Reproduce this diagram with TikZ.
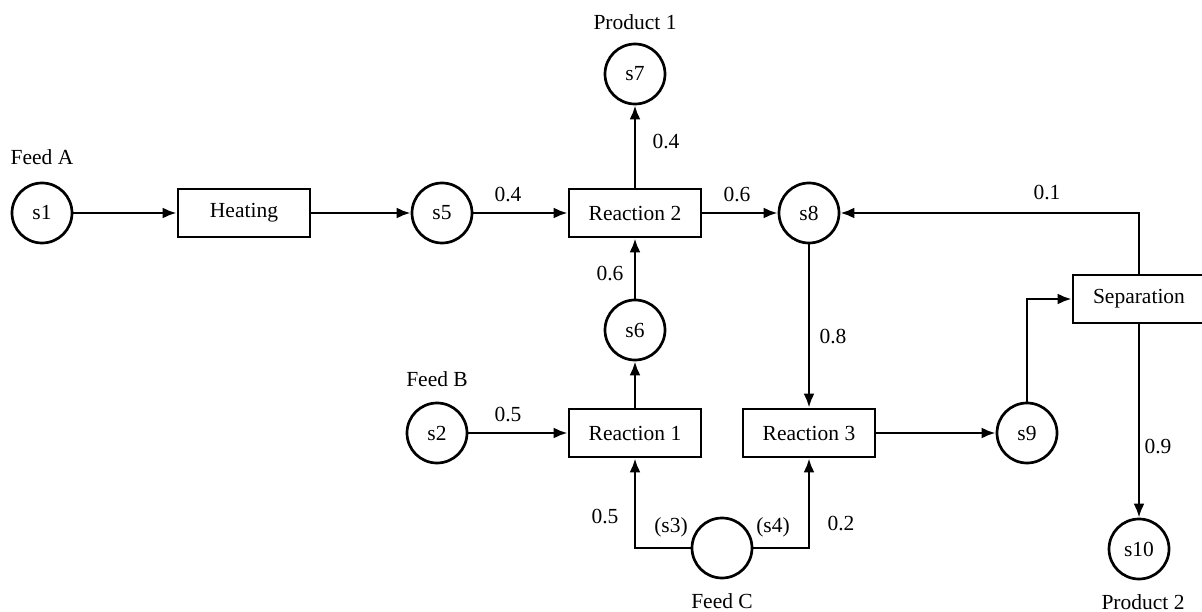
\documentclass[tikz,border=0pt]{standalone}
\usepackage{fontspec}
\setmainfont{Liberation Serif}
\usetikzlibrary{arrows.meta}
\begin{document}
\begin{tikzpicture}[x=1pt,y=-1pt,
  every node/.style={font=\fontsize{21.5}{25}\selectfont},
  stream/.style={circle,draw,line width=2.7pt,minimum size=60pt,inner sep=0pt},
  unit/.style={rectangle,draw,line width=2.7pt,minimum width=132pt,minimum height=48pt,inner sep=0pt},
  flow/.style={line width=2.7pt,-{Latex[length=14pt,width=11pt]}},
  lbl/.style={inner sep=0pt}]
\useasboundingbox (0,0) rectangle (1202,612);
% nodes
\node[stream] (s1) at (42,213) {s1};
\node[unit] (heat) at (244,213) {Heating};
\node[stream] (s5) at (442,213) {s5};
\node[unit] (r2) at (635,213) {Reaction 2};
\node[stream] (s7) at (635,74) {s7};
\node[stream] (s8) at (809,213) {s8};
\node[unit] (sep) at (1139,299) {Separation};
\node[stream] (s6) at (635,330) {s6};
\node[stream] (s2) at (437,433) {s2};
\node[unit] (r1) at (635,433) {Reaction 1};
\node[unit] (r3) at (809,433) {Reaction 3};
\node[stream] (s9) at (1027,433) {s9};
\node[stream] (fc) at (722,548) {};
\node[stream] (s10) at (1139,549) {s10};
% text labels
\node[lbl] (tP1) at (635,22) {Product 1};
\node[lbl] (tFA) at (42,157) {Feed A};
\node[lbl] (tFB) at (437,379) {Feed B};
\node[lbl] (tFC) at (722,601) {Feed C};
\node[lbl] (tP2) at (1143,602) {Product 2};
% connectors
\draw[flow] (s1) -- (heat);
\draw[flow] (heat) -- (s5);
\draw[flow] (s5) -- (r2);
\draw[flow] (r2) -- (s8);
\draw[flow] (r2) -- (s7);
\draw[flow] (s6) -- (r2);
\draw[flow] (r1) -- (s6);
\draw[flow] (s2) -- (r1);
\draw[flow] (s8) -- (r3);
\draw[flow] (r3) -- (s9);
\draw[flow] (s9.north) |- (sep.west);
\draw[flow] (sep.north) |- (s8.east);
\draw[flow] (sep) -- (s10);
\draw[flow] (fc.west) -| (r1.south);
\draw[flow] (fc.east) -| (r3.south);
% flow labels
\node[lbl] (l1) at (508,195) {0.4};
\node[lbl] (l2) at (737,195) {0.6};
\node[lbl] (l3) at (666,142) {0.4};
\node[lbl] (l4) at (610,274) {0.6};
\node[lbl] (l5) at (1047,193) {0.1};
\node[lbl] (l6) at (833,337) {0.8};
\node[lbl] (l7) at (508,415) {0.5};
\node[lbl] (l8) at (605,517) {0.5};
\node[lbl] (l9) at (671,527) {(s3)};
\node[lbl] (l10) at (773,527) {(s4)};
\node[lbl] (l11) at (841,524) {0.2};
\node[lbl] (l12) at (1158,447) {0.9};
\end{tikzpicture}
\end{document}
